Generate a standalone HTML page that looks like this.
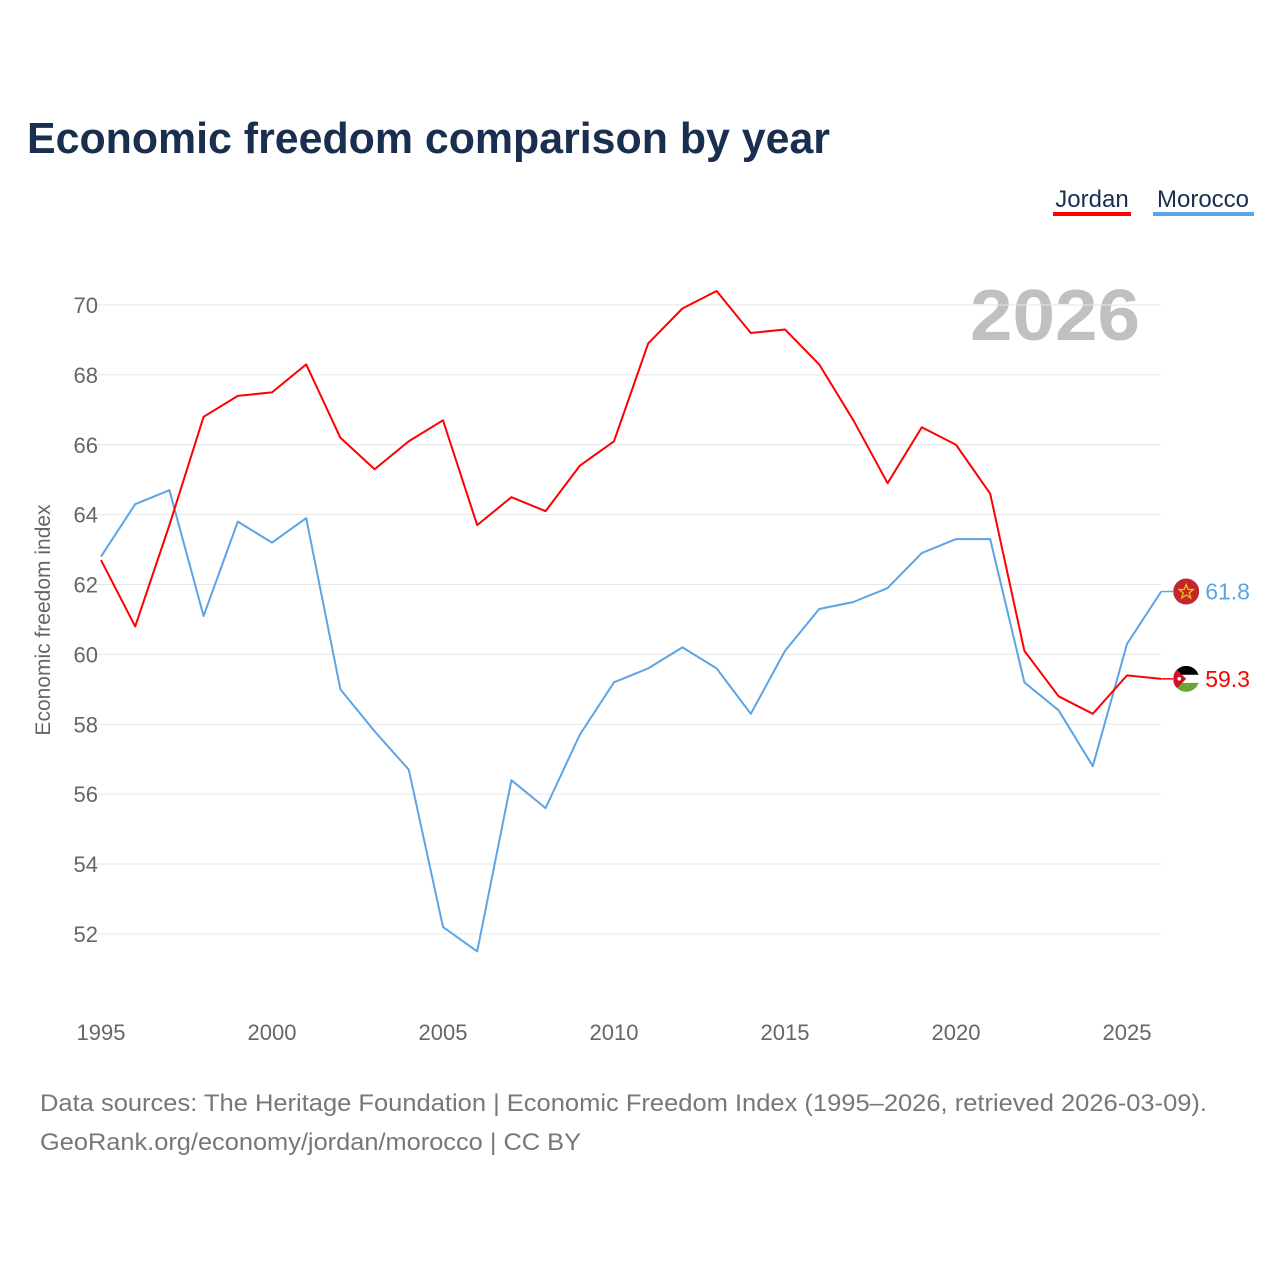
<!DOCTYPE html>
<html><head><meta charset="utf-8">
<style>
body{margin:0;background:#fff;font-family:"Liberation Sans",sans-serif;}
svg text{font-family:"Liberation Sans",sans-serif;}
</style></head>
<body>
<svg width="1280" height="1280" viewBox="0 0 1280 1280">
<defs>
<clipPath id="cm"><circle cx="0" cy="0" r="13"/></clipPath>
</defs>
<text x="27" y="153" font-size="44" font-weight="bold" fill="#1a2e4f" textLength="803" lengthAdjust="spacingAndGlyphs">Economic freedom comparison by year</text>
<g>
<text x="1092" y="207" font-size="24" fill="#1a2e4f" text-anchor="middle">Jordan</text>
<rect x="1053" y="212" width="78" height="4" fill="#ff0000"/>
<text x="1203" y="207" font-size="24" fill="#1a2e4f" text-anchor="middle">Morocco</text>
<rect x="1153" y="212" width="101" height="4" fill="#5ba4e6"/>
</g>
<text x="1140" y="340" font-size="72" font-weight="bold" fill="#c0c0c0" text-anchor="end" textLength="170" lengthAdjust="spacingAndGlyphs">2026</text>
<text transform="translate(50,620) rotate(-90)" font-size="21" fill="#666" text-anchor="middle">Economic freedom index</text>
<g id="grid"></g><g id="series"></g>
<text x="40" y="1111" font-size="24" fill="#777" textLength="1167" lengthAdjust="spacingAndGlyphs">Data sources: The Heritage Foundation | Economic Freedom Index (1995–2026, retrieved 2026-03-09).</text>
<text x="40" y="1150" font-size="24" fill="#777" textLength="541" lengthAdjust="spacingAndGlyphs">GeoRank.org/economy/jordan/morocco | CC BY</text>
</svg>
<script>
const years=[1995,1996,1997,1998,1999,2000,2001,2002,2003,2004,2005,2006,2007,2008,2009,2010,2011,2012,2013,2014,2015,2016,2017,2018,2019,2020,2021,2022,2023,2024,2025,2026];
const jordan=[62.7,60.8,63.7,66.8,67.4,67.5,68.3,66.2,65.3,66.1,66.7,63.7,64.5,64.1,65.4,66.1,68.9,69.9,70.4,69.2,69.3,68.3,66.7,64.9,66.5,66.0,64.6,60.1,58.8,58.3,59.4,59.3];
const morocco=[62.8,64.3,64.7,61.1,63.8,63.2,63.9,59.0,57.8,56.7,52.2,51.5,56.4,55.6,57.7,59.2,59.6,60.2,59.6,58.3,60.1,61.3,61.5,61.9,62.9,63.3,63.3,59.2,58.4,56.8,60.3,61.8];
const yTicks=[52,54,56,58,60,62,64,66,68,70];
const xTicks=[1995,2000,2005,2010,2015,2020,2025];
const NS="http://www.w3.org/2000/svg";
const X=y=>101+(y-1995)*34.2;
const Y=v=>305+(70-v)*34.94;
const grid=document.getElementById('grid'),ser=document.getElementById('series');
function mk(tag,attrs,parent){const e=document.createElementNS(NS,tag);for(const k in attrs)e.setAttribute(k,attrs[k]);parent.appendChild(e);return e;}
yTicks.forEach(t=>{
 const l=mk('line',{x1:90,x2:1161,y1:Y(t),y2:Y(t),stroke:'#e6e6e6','stroke-width':1},grid);
 
 
 const tx=mk('text',{x:98,y:Y(t)+8,'font-size':22,fill:'#666','text-anchor':'end'},grid);
 tx.textContent=t;
 
 
});
xTicks.forEach(t=>{
 const tx=mk('text',{x:X(t),y:1040,'font-size':22,fill:'#666','text-anchor':'middle'},grid);
 tx.textContent=t;
 
 
});
function line(vals,color,name){
 const p=mk('polyline',{points:vals.map((v,i)=>X(years[i])+','+Y(v)).join(' '),fill:'none',stroke:color,'stroke-width':2,'stroke-linejoin':'round'},ser);
 
 
 const last=vals[vals.length-1],lx=X(years[years.length-1]);
 mk('line',{x1:lx,x2:lx+12,y1:Y(last),y2:Y(last),stroke:color,'stroke-width':1.5},ser);
 const g=mk('g',{transform:'translate('+(lx+25)+','+Y(last)+')','clip-path':'url(#cm)'},ser);
 
 
 if(name==='morocco'){
  mk('rect',{x:-13,y:-13,width:26,height:26,fill:'#c1272d'},g);
  mk('polygon',{points:'0,-7 2,-2 7,-2 3,1.5 4.5,6.5 0,3.5 -4.5,6.5 -3,1.5 -7,-2 -2,-2',fill:'none',stroke:'#f5c400','stroke-width':1.3},g);
 } else {
  mk('rect',{x:-13,y:-13,width:26,height:9,fill:'#000'},g);
  mk('rect',{x:-13,y:-4,width:26,height:8,fill:'#fff'},g);
  mk('rect',{x:-13,y:4,width:26,height:9,fill:'#6ba539'},g);
  mk('polygon',{points:'-13,-13 0,0 -13,13',fill:'#ce1126'},g);
  mk('circle',{cx:-7,cy:0,r:1.8,fill:'#fff'},g);
 }
 const t=mk('text',{x:lx+44,y:Y(last)+8,'font-size':23,fill:color},ser);
 t.textContent=last.toFixed(1);
 
 
}
line(morocco,'#5ba4e6','morocco');
line(jordan,'#ff0000','jordan');
</script>
</body></html>
